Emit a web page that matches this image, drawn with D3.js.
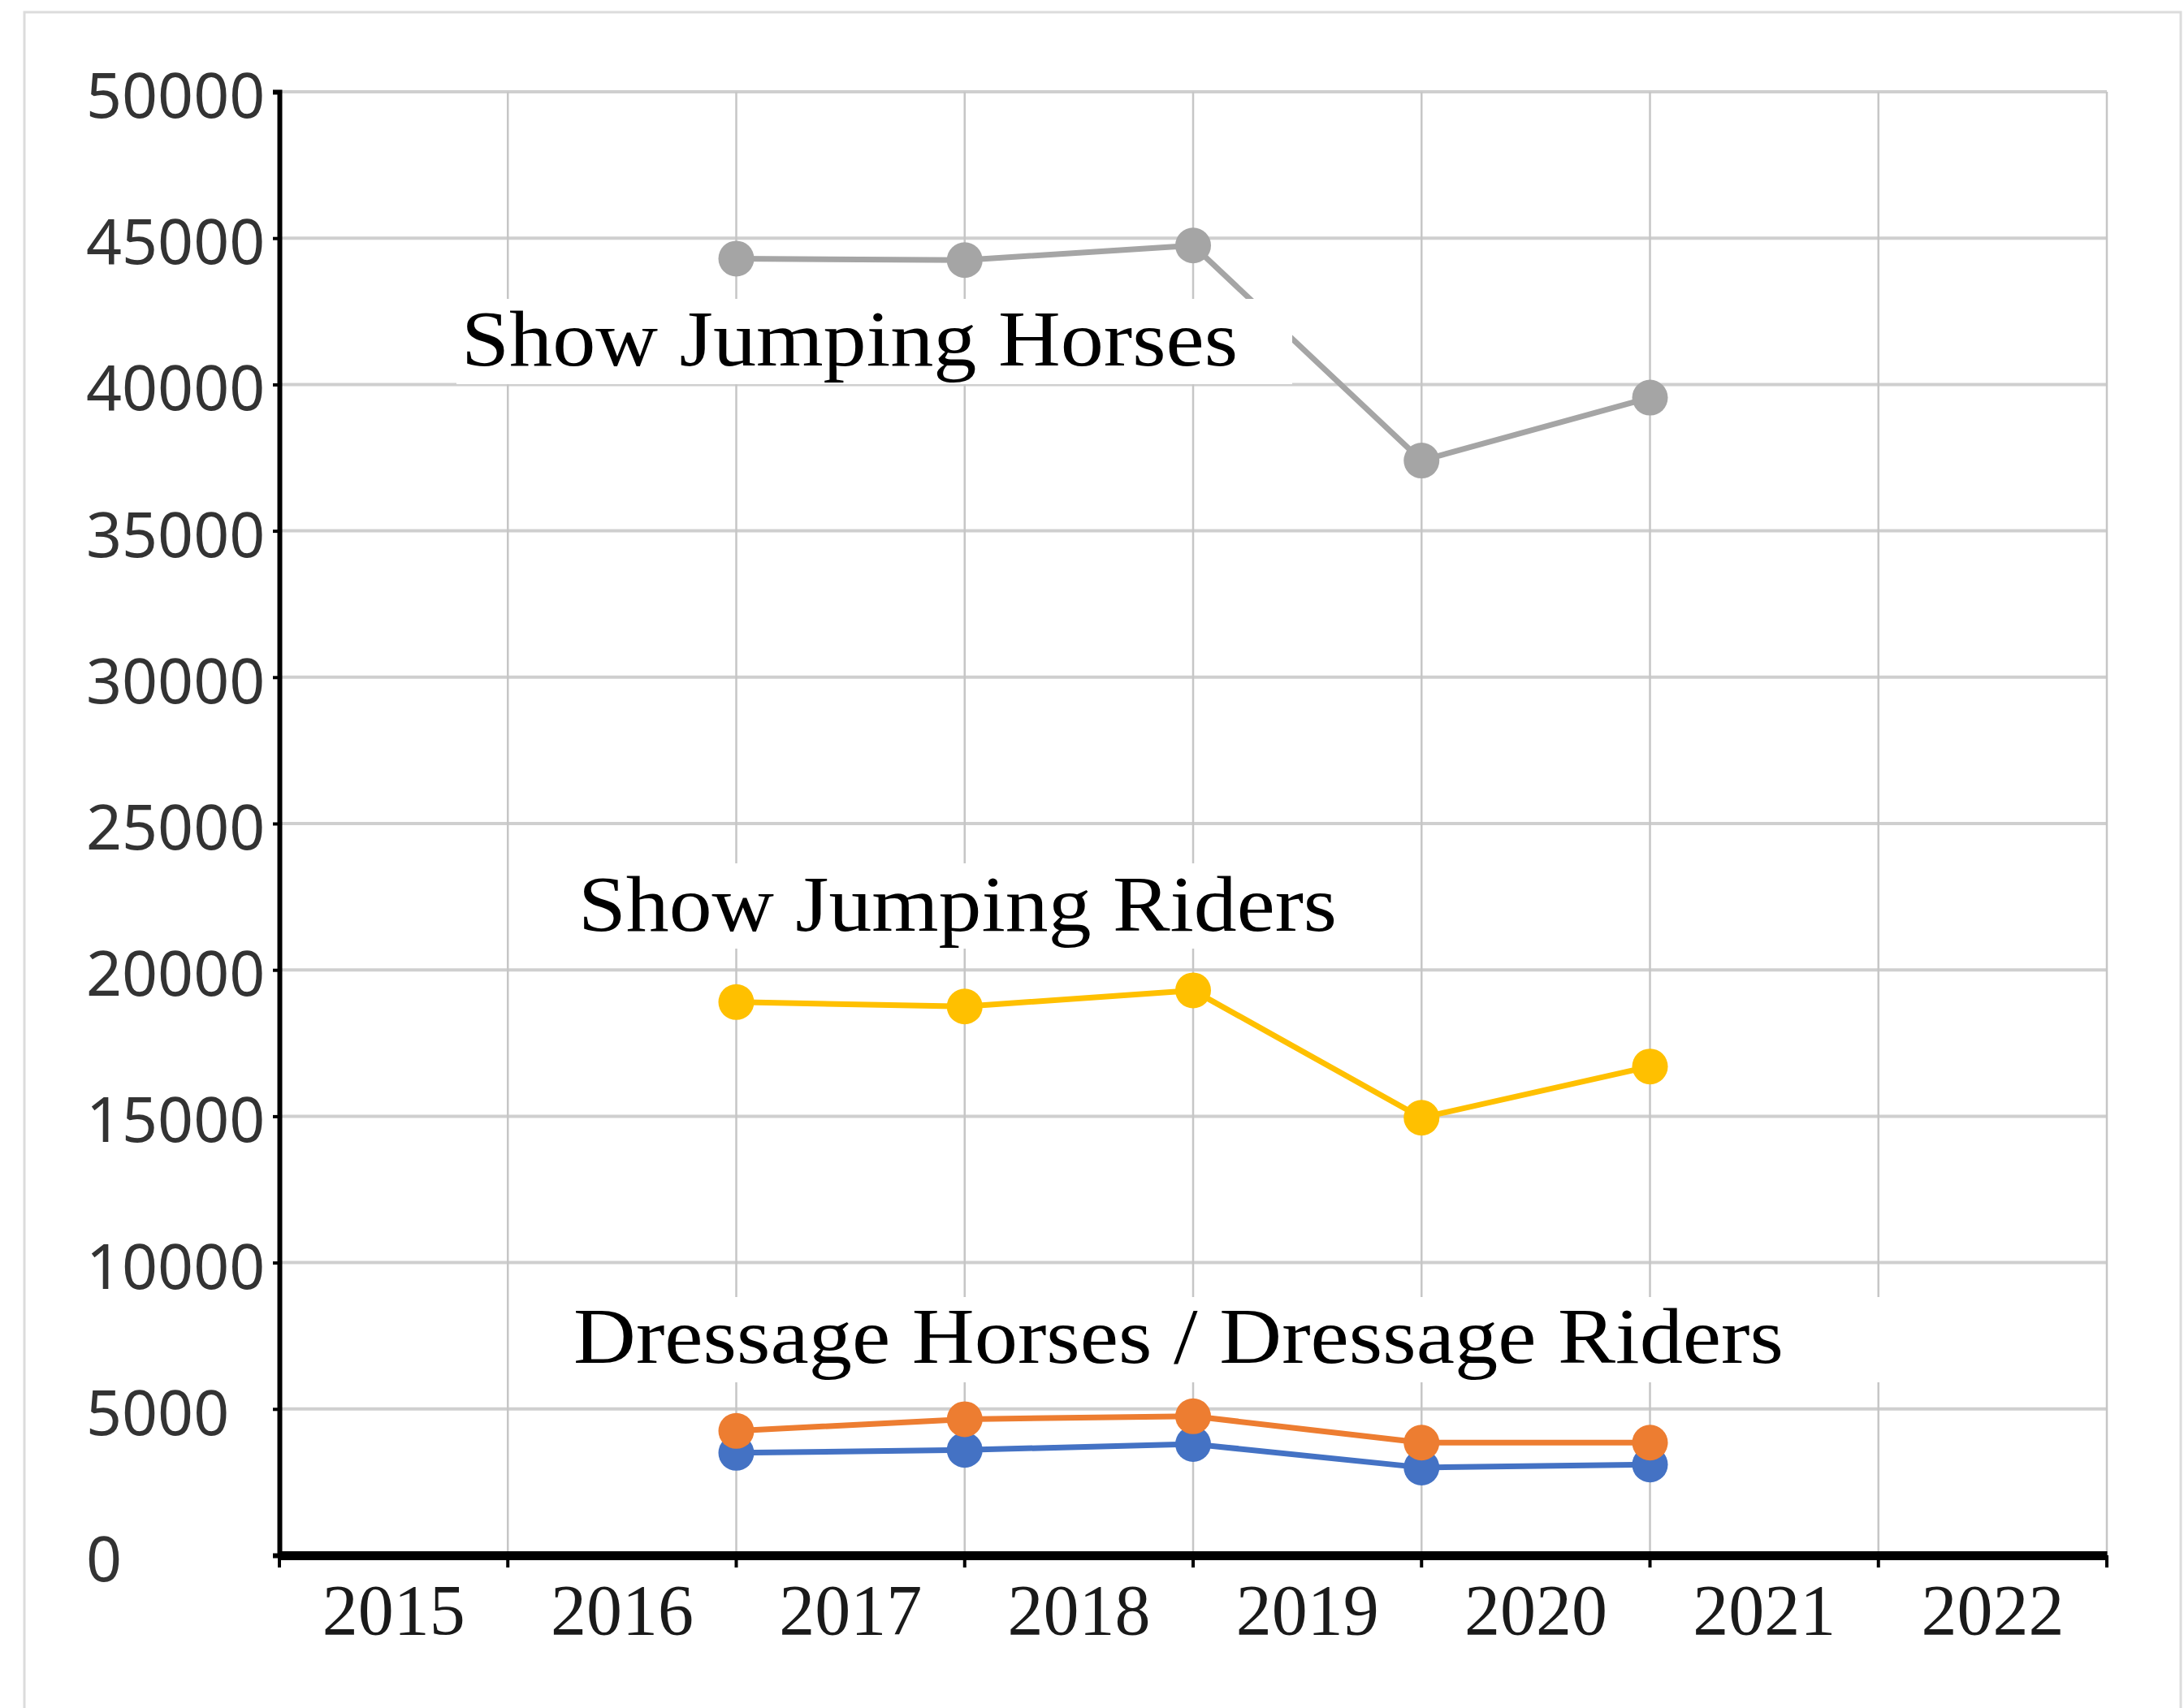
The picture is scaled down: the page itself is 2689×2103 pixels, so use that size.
<!DOCTYPE html>
<html>
<head>
<meta charset="utf-8">
<script src="https://cdn.jsdelivr.net/npm/d3@7"></script>
<style>
  html, body { margin: 0; padding: 0; background: #fff; }
  svg { display: block; }
</style>
</head>
<body>
<svg id="chart" width="2689" height="2103"></svg>
<script>
// categories and values
const years = ["2015", "2016", "2017", "2018", "2019", "2020", "2021", "2022"];
const pointYears = ["2016", "2017", "2018", "2019", "2020"];
const yTicks = [0, 5000, 10000, 15000, 20000, 25000, 30000, 35000, 40000, 45000, 50000];

const dressageRiders = [3500, 3600, 3800, 3000, 3100];
const dressageHorses = [4250, 4650, 4750, 3850, 3850];
const jumpingHorses = [44300, 44250, 44750, 37400, 39550];
const jumpingRiders = [18900, 18750, 19300, 14950, 16700];

const labelTexts = ["Show Jumping Horses", "Show Jumping Riders", "Dressage Horses / Dressage Riders"];

const series = [
  { name: "Dressage Riders", values: dressageRiders, color: "#4472c4" },
  { name: "Dressage Horses", values: dressageHorses, color: "#ed7d31" },
  { name: "Show Jumping Horses", values: jumpingHorses, color: "#a5a5a5" },
  { name: "Show Jumping Riders", values: jumpingRiders, color: "#ffc000" }
];

const svg = d3.select("#chart");
const margin = { left: 344, right: 2594, top: 113, bottom: 1915 };

// outer frame
svg.append("path")
    .attr("d", "M30,2103V15H2685V2103")
    .attr("fill", "none")
    .attr("stroke", "#dcdcdc")
    .attr("stroke-width", 3);

const x = d3.scaleBand()
    .domain(years)
    .range([margin.left, margin.right]);

const y = d3.scaleLinear()
    .domain([0, 50000])
    .range([margin.bottom, margin.top]);

// points sit on the boundary at the right edge of each year band
const px = yr => x(yr) + x.bandwidth();

// grid
svg.append("g")
  .selectAll("line")
  .data(yTicks.slice(1))
  .join("line")
    .attr("x1", margin.left)
    .attr("x2", margin.right)
    .attr("y1", d => y(d))
    .attr("y2", d => y(d))
    .attr("stroke", "#cfcfcf")
    .attr("stroke-width", 4);

svg.append("g")
  .selectAll("line")
  .data(years)
  .join("line")
    .attr("x1", d => px(d))
    .attr("x2", d => px(d))
    .attr("y1", margin.top)
    .attr("y2", margin.bottom)
    .attr("stroke", "#c6c6c6")
    .attr("stroke-width", 2.5);

// y axis
svg.append("g")
    .attr("transform", `translate(${margin.left},0)`)
    .call(d3.axisLeft(y).tickValues(yTicks).tickSize(8).tickFormat(""))
    .call(g => g.select(".domain").attr("stroke", "#000").attr("stroke-width", 6))
    .call(g => g.selectAll(".tick line").attr("stroke", "#000").attr("stroke-width", 4));

svg.append("g")
  .selectAll("text")
  .data(yTicks)
  .join("text")
    .attr("x", 106)
    .attr("y", d => y(d) + 32)
    .attr("font-family", "'Noto Sans', sans-serif")
    .attr("font-size", 77)
    .attr("fill", "#333")
    .text(d => d);

// x axis
svg.append("g")
    .attr("transform", `translate(0,${margin.bottom})`)
    .call(d3.axisBottom(x).tickSize(0).tickFormat(""))
    .call(g => g.select(".domain").attr("stroke", "#000").attr("stroke-width", 11))
    .call(g => g.selectAll(".tick").remove());

svg.append("g")
  .selectAll("line")
  .data([years[0]].concat(years))
  .join("line")
    .attr("x1", (d, i) => i === 0 ? x(d) : px(d))
    .attr("x2", (d, i) => i === 0 ? x(d) : px(d))
    .attr("y1", margin.bottom)
    .attr("y2", margin.bottom + 15)
    .attr("stroke", "#000")
    .attr("stroke-width", 4);

svg.append("g")
  .selectAll("text")
  .data(years)
  .join("text")
    .attr("x", d => x(d) + x.bandwidth() / 2)
    .attr("y", 2012)
    .attr("text-anchor", "middle")
    .attr("font-family", "'Liberation Serif', serif")
    .attr("font-size", 88)
    .attr("fill", "#1a1a1a")
    .text(d => d);

// series
const line = d3.line()
    .x((d, i) => px(pointYears[i]))
    .y(d => y(d));

series.forEach(s => {
  const g = svg.append("g");
  g.append("path")
      .datum(s.values)
      .attr("d", line)
      .attr("fill", "none")
      .attr("stroke", s.color)
      .attr("stroke-width", 7)
      .attr("stroke-linejoin", "round");
  g.selectAll("circle")
    .data(s.values)
    .join("circle")
      .attr("cx", (d, i) => px(pointYears[i]))
      .attr("cy", d => y(d))
      .attr("r", 22)
      .attr("fill", s.color);
});

// text labels on white boxes
const labelBoxes = [
  { x0: 562, x1: 1591, y0: 368, y1: 473, tx: 568, ty: 450, w: 956 },
  { x0: 705, x1: 1700, y0: 1063, y1: 1168, tx: 712, ty: 1146, w: 934 },
  { x0: 700, x1: 2324, y0: 1597, y1: 1702, tx: 706, ty: 1678, w: 1490 }
];

labelTexts.forEach((t, i) => {
  const b = labelBoxes[i];
  svg.append("rect")
      .attr("x", b.x0)
      .attr("y", b.y0)
      .attr("width", b.x1 - b.x0)
      .attr("height", b.y1 - b.y0)
      .attr("fill", "#fff");
  svg.append("text")
      .attr("x", b.tx)
      .attr("y", b.ty)
      .attr("font-family", "'Liberation Serif', serif")
      .attr("font-size", 98)
      .attr("fill", "#000")
      .attr("textLength", b.w)
      .attr("lengthAdjust", "spacingAndGlyphs")
      .text(t);
});
</script>
</body>
</html>
